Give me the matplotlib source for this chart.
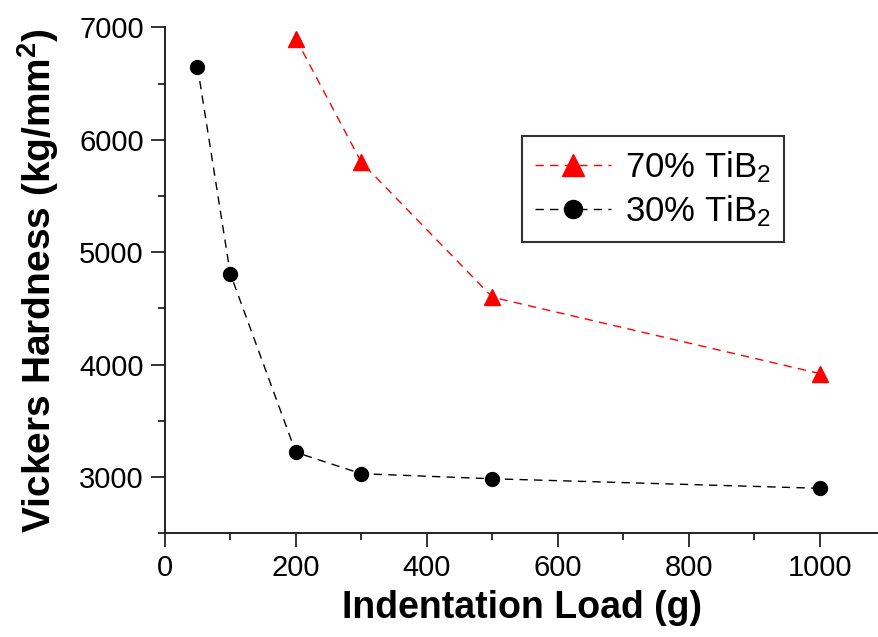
import numpy as np
import matplotlib
matplotlib.use("Agg")
import matplotlib.pyplot as plt
from matplotlib.ticker import MultipleLocator

plt.rcParams['font.family'] = ['Liberation Sans', 'DejaVu Sans']
plt.rcParams['mathtext.fontset'] = 'custom'
plt.rcParams['mathtext.rm'] = 'Liberation Sans'
plt.rcParams['mathtext.bf'] = 'Liberation Sans:bold'
plt.rcParams['mathtext.default'] = 'regular'

# data
load_70 = [200, 300, 500, 1000]
hv_70 = [6900, 5800, 4600, 3920]
load_30 = [50, 100, 200, 300, 500, 1000]
hv_30 = [6650, 4810, 3220, 3030, 2985, 2900]
labels = ['70% TiB$_2$', '30% TiB$_2$']

fig = plt.figure(figsize=(8.79, 6.37), dpi=100)
ax = fig.add_axes([0.1874, 0.1628, 0.8126, 0.7943])

dash = (0, (6, 4.5))
ax.plot(load_70, hv_70, ls=dash, lw=1.0, color='red', marker='^',
        markersize=12, label=labels[0])
ax.plot(load_30, hv_30, ls=dash, lw=1.0, color='black', marker='o',
        markersize=10, label=labels[1])

ax.set_xlim(0, 1090)
ax.set_ylim(2500, 7000)
ax.xaxis.set_major_locator(MultipleLocator(200))
ax.xaxis.set_minor_locator(MultipleLocator(100))
ax.yaxis.set_major_locator(MultipleLocator(1000))
ax.yaxis.set_minor_locator(MultipleLocator(500))
ax.set_yticks([3000, 4000, 5000, 6000, 7000])

for s in ['top', 'right']:
    ax.spines[s].set_visible(False)
for s in ['left', 'bottom']:
    ax.spines[s].set_linewidth(1.4)
    ax.spines[s].set_color('#222222')

ax.tick_params(which='major', direction='out', length=10, width=1.3,
               labelsize=21, pad=5, color='#222222')
ax.tick_params(which='minor', direction='out', length=5, width=1.3,
               color='#222222')

ax.set_xlabel('Indentation Load (g)', fontsize=27, fontweight='bold', labelpad=6)
ax.set_ylabel('Vickers Hardness (kg/mm$^\\mathbf{2}$)', fontsize=28,
              fontweight='bold', labelpad=13)

leg = ax.legend(loc='upper left', bbox_to_anchor=(0.594, 0.7865),
                bbox_transform=fig.transFigure, fontsize=25, frameon=True,
                fancybox=False, edgecolor='black', handlelength=2.2,
                numpoints=1, markerscale=1.3, borderpad=0.37,
                labelspacing=0.25, handletextpad=0.4, borderaxespad=0)
leg.get_frame().set_linewidth(1.5)

fig.savefig('out.png', dpi=100)
